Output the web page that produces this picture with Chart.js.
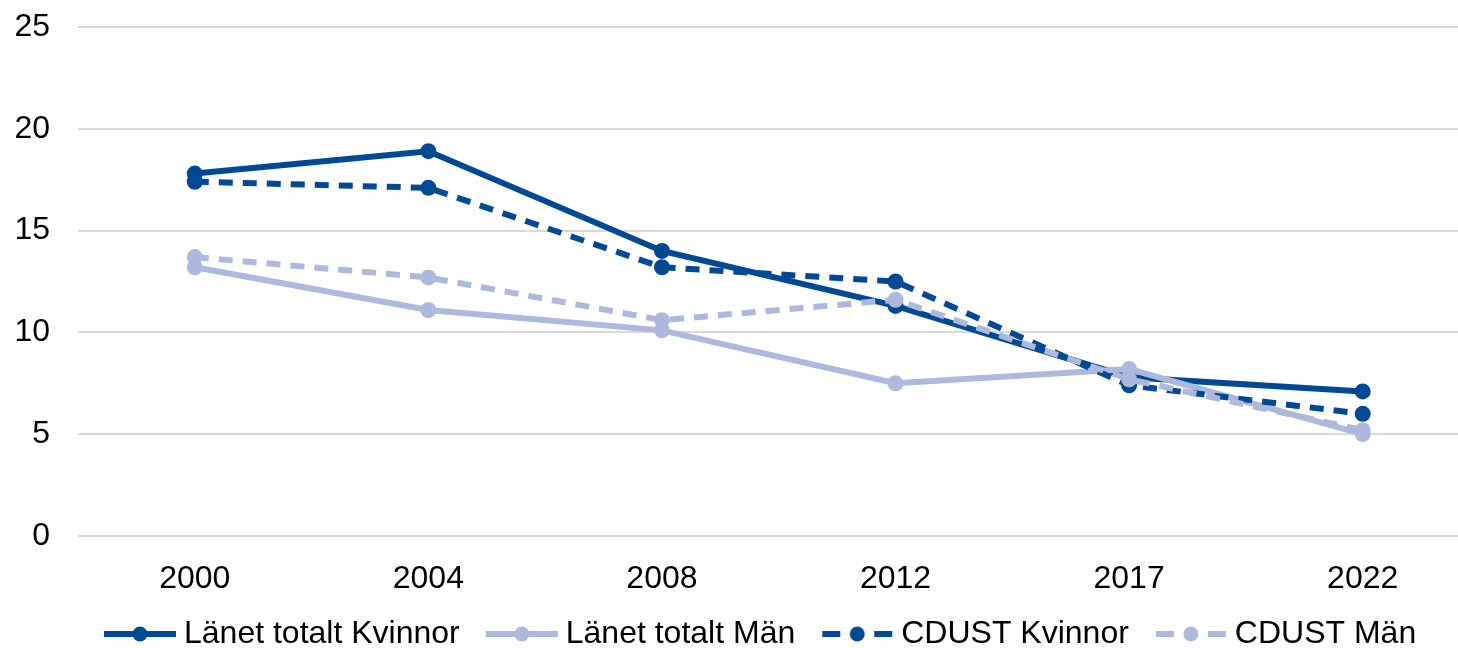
<!DOCTYPE html>
<html><head><meta charset="utf-8">
<script src="https://cdn.jsdelivr.net/npm/chart.js@4"></script>
<style>html,body{margin:0;padding:0;background:#fff;overflow:hidden}</style>
</head><body><canvas id="c" width="1458" height="648"></canvas>
<script>
const years = ['2000','2004','2008','2012','2017','2022'];
const lanetKvinnor = [17.8, 18.9, 14.0, 11.3, 7.8, 7.1];
const lanetMan = [13.2, 11.1, 10.1, 7.5, 8.2, 5.0];
const cdustKvinnor = [17.4, 17.1, 13.2, 12.5, 7.4, 6.0];
const cdustMan = [13.7, 12.7, 10.6, 11.6, 7.7, 5.2];
const seriesNames = ['Länet totalt Kvinnor', 'Länet totalt Män', 'CDUST Kvinnor', 'CDUST Män'];
const yTicks = [0, 5, 10, 15, 20, 25];

const DARK = '#014A93';
const LIGHT = '#ADB9DC';
const FONT = 'Liberation Sans, Arial, sans-serif';
const FS = 32;

function legendImg(color, dashed) {
  const c = document.createElement('canvas');
  c.width = 84; c.height = 18;
  const g = c.getContext('2d');
  const o = 11;
  g.strokeStyle = color; g.fillStyle = color; g.lineWidth = 6;
  g.beginPath();
  if (dashed) {
    g.moveTo(o + 1, 9); g.lineTo(o + 19, 9);
    g.moveTo(o + 53, 9); g.lineTo(o + 71, 9);
  } else {
    g.moveTo(o, 9); g.lineTo(o + 72, 9);
  }
  g.stroke();
  g.beginPath(); g.arc(o + 36, 9, 7.5, 0, Math.PI * 2); g.fill();
  return c;
}

const colors = [DARK, LIGHT, DARK, LIGHT];
const dashes = [false, false, true, true];
const values = [lanetKvinnor, lanetMan, cdustKvinnor, cdustMan];
const imgs = colors.map((c, i) => legendImg(c, dashes[i]));

const datasets = values.map((vals, i) => ({
  label: seriesNames[i],
  data: vals.map((v, j) => ({x: j, y: v})),
  borderColor: colors[i],
  backgroundColor: colors[i],
  borderWidth: 6,
  borderDash: dashes[i] ? [14, 10] : [],
  pointRadius: 8,
  pointBorderWidth: 0,
  pointBackgroundColor: colors[i],
  tension: 0,
  clip: false,
  order: 3 - i
}));

new Chart(document.getElementById('c'), {
  type: 'line',
  data: { datasets },
  options: {
    responsive: false,
    animation: false,
    devicePixelRatio: 1,
    layout: { autoPadding: false, padding: { top: 27, right: 0, left: 0, bottom: 0 } },
    scales: {
      x: {
        type: 'linear',
        min: -0.5,
        max: 5.408,
        grid: { display: false, drawTicks: false },
        border: { display: false },
        afterFit: s => { s.paddingLeft = 0; s.paddingRight = 0; s.height = 58; },
        ticks: {
          stepSize: 1,
          includeBounds: false,
          autoSkip: false,
          maxRotation: 0,
          padding: 24,
          color: '#000',
          font: { family: FONT, size: FS },
          callback: v => years[v] ?? ''
        }
      },
      y: {
        min: 0, max: 25,
        afterFit: s => { s.width = 78; s.paddingTop = 0; s.paddingBottom = 0; },
        afterBuildTicks: s => { s.ticks = yTicks.map(v => ({value: v})); },
        grid: { color: '#d9d9d9', lineWidth: 2, drawTicks: false },
        border: { display: false },
        ticks: {
          padding: 28,
          color: '#000',
          font: { family: FONT, size: FS }
        }
      }
    },
    plugins: {
      tooltip: { enabled: false },
      legend: {
        position: 'bottom',
        fullSize: false,
        align: 'start',
        maxHeight: 54,
        labels: {
          usePointStyle: true,
          pointStyleWidth: 66,
          boxHeight: 16,
          padding: 24,
          color: '#000',
          font: { family: FONT, size: FS },
          sort: (a, b) => a.datasetIndex - b.datasetIndex,
          generateLabels: chart => {
            const items = Chart.defaults.plugins.legend.labels.generateLabels(chart);
            items.forEach(it => { it.pointStyle = imgs[it.datasetIndex]; });
            return items;
          }
        }
      }
    }
  }
});
</script>
</body></html>
